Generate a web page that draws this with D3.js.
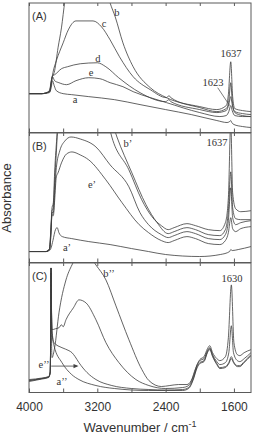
<!DOCTYPE html>
<html>
<head>
<meta charset="utf-8">
<script src="https://cdn.jsdelivr.net/npm/d3@7"></script>
<style>
  body { margin: 0; background: #fff; }
  svg { display: block; }
  .frame { fill: none; stroke: #5a5a5a; stroke-width: 1; }
  .spec { fill: none; stroke: #3c3c3c; stroke-width: 0.8; }
  .ann { font-family: "Liberation Serif", "DejaVu Serif", serif; font-size: 10.5px; fill: #333; }
  .plab { font-family: "Liberation Sans", Arial, sans-serif; font-size: 11px; fill: #333; }
  .axis text { font-family: "Liberation Sans", Arial, sans-serif; font-size: 12px; fill: #333; }
  .axis line { stroke: #5a5a5a; }
  .axis path { display: none; }
</style>
</head>
<body>
<div id="chart"></div>
<script>
var W = 253, H = 436;

/***** data: [wavenumber, absorbance]  ******/
var tickValues = [4000, 3600, 3200, 2800, 2400, 2000, 1600];
var tickLabels = [4000, 3200, 2400, 1600];
var panelNames = ["(A)", "(B)", "(C)"];

// panel A
var specA_a = [[4000,.39],[3850,.39],[3760,.40],[3740,.45],[3725,.52],[3705,.47],[3680,.42],[3600,.39],[3500,.38],[3300,.36],[3000,.33],[2700,.28],[2400,.23],[2100,.18],[1800,.12],[1680,.10],[1650,.11],[1637,.12],[1625,.10],[1600,.08],[1500,.06],[1400,.05]];
var specA_e = [[4000,.39],[3850,.39],[3760,.41],[3740,.48],[3725,.56],[3700,.52],[3650,.50],[3560,.48],[3450,.52],[3300,.55],[3170,.54],[3050,.50],[2900,.46],[2780,.41],[2580,.35],[2390,.30],[2000,.20],[1765,.16],[1690,.17],[1660,.21],[1637,.27],[1620,.22],[1590,.17],[1500,.16],[1400,.16]];
var specA_d = [[4000,.39],[3850,.39],[3760,.41],[3740,.50],[3725,.57],[3700,.58],[3620,.64],[3550,.66],[3400,.69],[3200,.70],[3100,.66],[2950,.55],[2700,.40],[2400,.31],[2360,.33],[2340,.31],[2000,.23],[1800,.20],[1690,.22],[1660,.28],[1637,.36],[1620,.28],[1590,.21],[1500,.19],[1400,.18]];
var specA_c = [[4000,.39],[3850,.39],[3760,.41],[3740,.50],[3720,.60],[3680,.72],[3600,.90],[3540,1.03],[3450,1.12],[3250,1.12],[3150,1.06],[3050,.93],[2940,.76],[2780,.56],[2580,.43],[2390,.35],[2360,.37],[2340,.35],[2000,.25],[1800,.21],[1690,.24],[1660,.32],[1637,.50],[1620,.32],[1590,.20],[1500,.17],[1400,.16]];
var specA_b = [[4000,.39],[3850,.39],[3760,.42],[3740,.52],[3700,.62],[3660,.85],[3620,1.05],[3580,1.32],[3450,1.8],[3250,1.85],[3100,1.45],[3050,1.30],[2990,1.16],[2900,.90],[2780,.66],[2580,.45],[2390,.35],[2000,.26],[1800,.23],[1690,.27],[1665,.38],[1637,.71],[1615,.36],[1590,.24],[1500,.22],[1400,.21]];

// panel B
var specB_a = [[4000,.11],[3800,.11],[3760,.12],[3740,.15],[3720,.22],[3690,.33],[3670,.35],[3650,.30],[3610,.26],[3500,.24],[3300,.21],[3050,.18],[2800,.14],[2600,.11],[2400,.08],[2000,.06],[1760,.08],[1650,.11],[1637,.13],[1620,.12],[1550,.13],[1400,.16]];
var specB_e = [[4000,.11],[3800,.11],[3760,.13],[3745,.25],[3730,.48],[3715,.47],[3700,.62],[3680,.86],[3660,.90],[3620,1.00],[3560,1.09],[3497,1.11],[3400,1.08],[3300,1.03],[3100,.83],[2910,.60],[2710,.38],[2600,.30],[2450,.22],[2370,.20],[2300,.22],[2150,.26],[2050,.24],[1900,.19],[1765,.18],[1700,.22],[1665,.30],[1637,.45],[1615,.34],[1580,.31],[1520,.34],[1400,.36]];
var specB_d = [[4000,.11],[3800,.11],[3760,.13],[3745,.27],[3730,.50],[3715,.50],[3700,.70],[3680,.95],[3640,1.12],[3580,1.22],[3508,1.26],[3400,1.24],[3216,1.16],[3050,.98],[2830,.76],[2700,.50],[2600,.38],[2450,.28],[2370,.25],[2300,.27],[2150,.31],[2050,.29],[1900,.24],[1765,.23],[1700,.28],[1665,.42],[1637,.75],[1615,.45],[1580,.38],[1520,.40],[1400,.42]];
var specB_c = [[4000,.11],[3800,.11],[3760,.14],[3745,.30],[3730,.52],[3715,.55],[3700,.80],[3680,1.10],[3660,1.40],[3550,1.85],[3300,1.95],[3100,1.60],[2970,1.26],[2795,.90],[2630,.58],[2500,.40],[2370,.29],[2300,.31],[2150,.35],[2050,.33],[1900,.28],[1765,.27],[1700,.33],[1665,.52],[1637,.91],[1615,.55],[1580,.44],[1520,.43],[1400,.43]];
var specB_b = [[4000,.11],[3800,.11],[3760,.14],[3745,.32],[3730,.55],[3715,.60],[3700,.90],[3670,1.30],[3640,1.6],[3500,1.95],[3250,1.9],[3100,1.5],[3030,1.26],[2830,.93],[2680,.63],[2560,.46],[2450,.37],[2370,.33],[2300,.35],[2150,.39],[2050,.37],[1900,.33],[1765,.32],[1700,.40],[1665,.65],[1637,1.40],[1615,.70],[1580,.54],[1520,.51],[1400,.52]];

// panel C
var specC_a = [[4000,.12],[3850,.14],[3770,.155],[3752,.20],[3746,.60],[3742,1.25],[3738,.90],[3730,.60],[3707,.47],[3614,.30],[3500,.18],[3415,.13],[3216,.07],[3000,.04],[2600,.02],[2400,.02],[2200,.02],[2130,.04],[2080,.12],[2030,.25],[2000,.29],[1950,.31],[1910,.40],[1883,.43],[1850,.36],[1800,.28],[1765,.24],[1700,.25],[1660,.29],[1630,.34],[1605,.30],[1560,.26],[1531,.26],[1480,.30],[1400,.37]];
var specC_e = [[4000,.13],[3850,.145],[3770,.16],[3752,.21],[3746,.60],[3742,1.25],[3738,.92],[3730,.62],[3707,.50],[3614,.45],[3532,.42],[3497,.40],[3460,.36],[3415,.30],[3320,.20],[3216,.13],[3030,.07],[2800,.04],[2596,.03],[2400,.025],[2200,.03],[2130,.05],[2080,.13],[2030,.26],[2000,.30],[1950,.32],[1910,.41],[1883,.44],[1850,.37],[1800,.29],[1765,.25],[1700,.26],[1660,.30],[1630,.36],[1605,.31],[1560,.27],[1531,.27],[1480,.31],[1400,.38]];
var specC_c = [[4000,.11],[3850,.135],[3770,.15],[3752,.20],[3746,.62],[3742,1.25],[3738,.95],[3731,.63],[3690,.64],[3649,.65],[3620,.68],[3600,.66],[3567,.73],[3480,.85],[3415,.93],[3333,.90],[3216,.73],[3099,.50],[2947,.30],[2748,.13],[2596,.07],[2400,.04],[2200,.05],[2130,.07],[2080,.15],[2030,.28],[2000,.32],[1950,.34],[1910,.42],[1883,.45],[1850,.38],[1800,.31],[1765,.28],[1700,.30],[1660,.40],[1630,.67],[1605,.40],[1560,.32],[1531,.31],[1480,.34],[1400,.40]];
var specC_b = [[4000,.12],[3850,.14],[3770,.155],[3752,.20],[3746,.58],[3742,1.20],[3738,.70],[3731,.35],[3700,.45],[3649,.80],[3567,1.13],[3497,1.28],[3400,1.40],[3300,1.38],[3216,1.28],[3099,1.13],[2982,.87],[2830,.53],[2678,.23],[2596,.12],[2450,.06],[2350,.07],[2250,.08],[2150,.08],[2100,.12],[2050,.24],[2000,.33],[1950,.36],[1910,.44],[1883,.47],[1850,.40],[1800,.34],[1765,.32],[1700,.36],[1665,.55],[1630,1.08],[1600,.50],[1560,.38],[1531,.37],[1480,.40],[1400,.43]];

var panelSpectra = [
  [specA_a, specA_e, specA_d, specA_c, specA_b],
  [specB_a, specB_e, specB_d, specB_c, specB_b],
  [specC_a, specC_e, specC_c, specC_b]
];

/***** layout ******/
var left = 29, right = 251;
var panelTops = [3, 133, 263];
var panelH = 129.5;

var x = d3.scaleLinear().domain([4000, 1400]).range([left, right]);

var svg = d3.select("#chart").append("svg")
    .attr("width", W)
    .attr("height", H);

var defs = svg.append("defs");

panelSpectra.forEach(function(specs, i) {
    var top = panelTops[i], bottom = top + panelH;
    var y = d3.scaleLinear().domain([0, 1.3]).range([bottom, top]);

    defs.append("clipPath")
        .attr("id", "clip" + i)
        .append("rect")
        .attr("x", left).attr("y", top)
        .attr("width", right - left).attr("height", panelH);

    var line = d3.line()
        .x(function(d) { return x(d[0]); })
        .y(function(d) { return y(d[1]); })
        .curve(d3.curveMonotoneX);

    var g = svg.append("g").attr("class", "panel p" + i);

    g.append("g")
     .attr("clip-path", "url(#clip" + i + ")")
     .selectAll("path")
     .data(specs)
     .enter()
     .append("path")
     .attr("class", "spec")
     .attr("d", line);

    // inward ticks top and bottom
    g.append("g")
     .attr("class", "axis")
     .attr("transform", "translate(0," + top + ")")
     .call(d3.axisTop(x).tickValues(tickValues).tickSizeInner(-3).tickSizeOuter(0).tickFormat(""));

    var bottomAxis = d3.axisBottom(x).tickValues(tickValues).tickSizeInner(-4).tickSizeOuter(0);
    if (i == 2) {
        bottomAxis.tickPadding(10).tickFormat(function(d) { return tickLabels.indexOf(d) >= 0 ? d : ""; });
    } else {
        bottomAxis.tickFormat("");
    }
    g.append("g")
     .attr("class", "axis")
     .attr("transform", "translate(0," + bottom + ")")
     .call(bottomAxis);

    g.append("rect")
     .attr("class", "frame")
     .attr("x", left).attr("y", top)
     .attr("width", right - left).attr("height", panelH);

    g.append("text")
     .attr("class", "plab")
     .attr("x", left + 3)
     .attr("y", top + 17)
     .text(panelNames[i]);

    // annotations placed in data units
    function ann(t, wn, a, anchor) {
        g.append("text")
         .attr("class", "ann")
         .attr("x", x(wn))
         .attr("y", y(a))
         .attr("dy", "0.35em")
         .attr("text-anchor", anchor || "middle")
         .text(t);
    }

    if (i == 0) {
        ann("b", 2970, 1.21);
        ann("c", 3122, 1.10);
        ann("d", 3192, .74);
        ann("e", 3274, .60);
        ann("a", 3461, .33);
        ann("1637", 1635, .79);
        ann("1623", 1845, .50);
        g.append("line")
         .attr("x1", x(1790)).attr("y1", y(.45))
         .attr("x2", x(1650)).attr("y2", y(.27))
         .attr("stroke", "#444").attr("stroke-width", 0.7);
    } else if (i == 1) {
        ann("b\u2019", 2841, 1.20);
        ann("e\u2019", 3262, .78);
        ann("a\u2019", 3555, .15);
        ann("1637", 1798, 1.21);
    } else {
        ann("b\u2019\u2019", 3063, 1.20);
        ann("1630", 1623, 1.15);
        ann("e\u2019\u2019", 3824, .28);
        ann("a\u2019\u2019", 3614, .11);
        g.append("line")
         .attr("x1", x(3740)).attr("y1", y(.265))
         .attr("x2", x(3440)).attr("y2", y(.265))
         .attr("stroke", "#444").attr("stroke-width", 0.8);
        g.append("path")
         .attr("d", "M" + x(3420) + "," + y(.265) + "l-5,-2.2l0,4.4z")
         .attr("fill", "#444");
    }
});

/***** axis titles ******/
var xt = svg.append("text")
    .attr("x", (left + right) / 2)
    .attr("y", 432)
    .attr("text-anchor", "middle")
    .style("font-family", "Liberation Sans, Arial, sans-serif")
    .style("font-size", "13px")
    .style("fill", "#333");
xt.append("tspan").text("Wavenumber / cm");
xt.append("tspan").attr("dy", "-5").style("font-size", "9px").text("-1");

svg.append("text")
    .attr("transform", "translate(11,198) rotate(-90)")
    .attr("text-anchor", "middle")
    .style("font-family", "Liberation Sans, Arial, sans-serif")
    .style("font-size", "13px")
    .style("fill", "#333")
    .text("Absorbance");
</script>
</body>
</html>
